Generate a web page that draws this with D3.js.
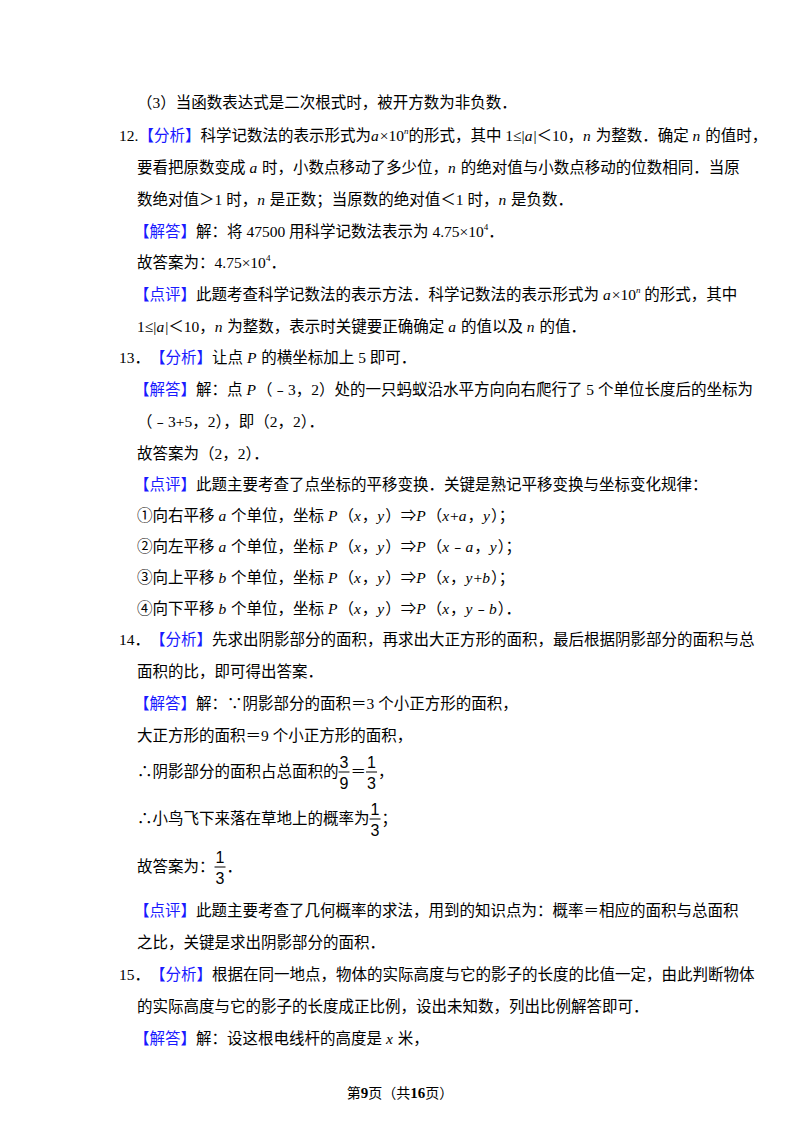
<!DOCTYPE html>
<html><head><meta charset="utf-8">
<script src="https://cdn.jsdelivr.net/npm/d3@7"></script>
<style>body{margin:0;background:#fff}</style>
</head><body><svg id="c" width="800" height="1132"></svg>
<script>
// segments: [text, style]  styles: n normal, b blue bracket, i italic, s superscript(italic), u superscript upright, f fraction "num/den"
const lines = [
 {x:137,y:108,seg:[["（3）当函数表达式是二次根式时，被开方数为非负数．","n"]]},
 {x:119,y:141,j:true,seg:[["12.","n"],["【分析】","b"],["科学记数法的表示形式为","n"],["a","i"],["×10","n"],["n","s"],["的形式，其中 1≤|","n"],["a","i"],["|＜10，","n"],["n","i"],[" 为整数．确定 ","n"],["n","i"],[" 的值时，","n"]]},
 {x:137,y:173,j:true,seg:[["要看把原数变成 ","n"],["a","i"],[" 时，小数点移动了多少位，","n"],["n","i"],[" 的绝对值与小数点移动的位数相同．当原","n"]]},
 {x:137,y:205,seg:[["数绝对值＞1 时，","n"],["n","i"],[" 是正数；当原数的绝对值＜1 时，","n"],["n","i"],[" 是负数．","n"]]},
 {x:134,y:237,seg:[["【解答】","b"],["解：将 47500 用科学记数法表示为 4.75×10","n"],["4","u"],["．","n"]]},
 {x:137,y:268,seg:[["故答案为：4.75×10","n"],["4","u"],["．","n"]]},
 {x:134,y:300,j:true,seg:[["【点评】","b"],["此题考查科学记数法的表示方法．科学记数法的表示形式为 ","n"],["a","i"],["×10","n"],["n","s"],[" 的形式，其中","n"]]},
 {x:137,y:332,seg:[["1≤|","n"],["a","i"],["|＜10，","n"],["n","i"],[" 为整数，表示时关键要正确确定 ","n"],["a","i"],[" 的值以及 ","n"],["n","i"],[" 的值．","n"]]},
 {x:119,y:363,seg:[["13．","n"],["【分析】","b"],["让点 ","n"],["P","i"],[" 的横坐标加上 5 即可．","n"]]},
 {x:134,y:395,j:true,seg:[["【解答】","b"],["解：点 ","n"],["P","i"],["（﹣3，2）处的一只蚂蚁沿水平方向向右爬行了 5 个单位长度后的坐标为","n"]]},
 {x:137,y:427,seg:[["（﹣3+5，2），即（2，2）．","n"]]},
 {x:137,y:459,seg:[["故答案为（2，2）．","n"]]},
 {x:134,y:490,seg:[["【点评】","b"],["此题主要考查了点坐标的平移变换．关键是熟记平移变换与坐标变化规律：","n"]]},
 {x:137,y:521,seg:[["①向右平移 ","n"],["a","i"],[" 个单位，坐标 ","n"],["P","i"],["（","n"],["x","i"],["，","n"],["y","i"],["）⇒","n"],["P","i"],["（","n"],["x","i"],["+","n"],["a","i"],["，","n"],["y","i"],["）；","n"]]},
 {x:137,y:552,seg:[["②向左平移 ","n"],["a","i"],[" 个单位，坐标 ","n"],["P","i"],["（","n"],["x","i"],["，","n"],["y","i"],["）⇒","n"],["P","i"],["（","n"],["x","i"],["﹣","n"],["a","i"],["，","n"],["y","i"],["）；","n"]]},
 {x:137,y:583,seg:[["③向上平移 ","n"],["b","i"],[" 个单位，坐标 ","n"],["P","i"],["（","n"],["x","i"],["，","n"],["y","i"],["）⇒","n"],["P","i"],["（","n"],["x","i"],["，","n"],["y","i"],["+","n"],["b","i"],["）；","n"]]},
 {x:137,y:614,seg:[["④向下平移 ","n"],["b","i"],[" 个单位，坐标 ","n"],["P","i"],["（","n"],["x","i"],["，","n"],["y","i"],["）⇒","n"],["P","i"],["（","n"],["x","i"],["，","n"],["y","i"],["﹣","n"],["b","i"],["）．","n"]]},
 {x:119,y:645,j:true,seg:[["14．","n"],["【分析】","b"],["先求出阴影部分的面积，再求出大正方形的面积，最后根据阴影部分的面积与总","n"]]},
 {x:137,y:677,seg:[["面积的比，即可得出答案．","n"]]},
 {x:134,y:709,seg:[["【解答】","b"],["解：∵阴影部分的面积＝3 个小正方形的面积，","n"]]},
 {x:137,y:741,seg:[["大正方形的面积＝9 个小正方形的面积，","n"]]},
 {x:137,y:777,seg:[["∴阴影部分的面积占总面积的","n"],["3/9","f"],["＝","n"],["1/3","f"],["，","n"]]},
 {x:137,y:824,seg:[["∴小鸟飞下来落在草地上的概率为","n"],["1/3","f"],["；","n"]]},
 {x:137,y:872,seg:[["故答案为：","n"],["1/3","f"],["．","n"]]},
 {x:134,y:916,j:true,seg:[["【点评】","b"],["此题主要考查了几何概率的求法，用到的知识点为：概率＝相应的面积与总面积","n"]]},
 {x:137,y:948,seg:[["之比，关键是求出阴影部分的面积．","n"]]},
 {x:119,y:980,j:true,seg:[["15．","n"],["【分析】","b"],["根据在同一地点，物体的实际高度与它的影子的长度的比值一定，由此判断物体","n"]]},
 {x:137,y:1012,seg:[["的实际高度与它的影子的长度成正比例，设出未知数，列出比例解答即可．","n"]]},
 {x:134,y:1044,seg:[["【解答】","b"],["解：设这根电线杆的高度是 ","n"],["x","i"],[" 米，","n"]]}
];
const footer = [["第","n"],["9","bold"],["页（共","n"],["16","bold"],["页）","n"]];
const RIGHT = 668, FS = 15.5;
const FONT = "'Liberation Serif','Times New Roman','Noto Sans CJK SC',serif";
const svg = d3.select("#c");
svg.append("rect").attr("width",800).attr("height",1132).attr("fill","#fff");

function drawLine(L){
  const g = svg.append("g");
  let x = L.x; const items=[];
  L.seg.forEach(([t,s])=>{
    if(s==="f"){
      const [a,b]=t.split("/");
      const w=11;
      const fg=g.append("g");
      fg.append("text").attr("x",x+w/2).attr("y",L.y-9).attr("text-anchor","middle").attr("font-family","'Liberation Sans',Arial,sans-serif").attr("font-size",16).attr("fill","#000").text(a);
      fg.append("line").attr("x1",x).attr("x2",x+w).attr("y1",L.y-5).attr("y2",L.y-5).attr("stroke","#000").attr("stroke-width",1);
      fg.append("text").attr("x",x+w/2).attr("y",L.y+12).attr("text-anchor","middle").attr("font-family","'Liberation Sans',Arial,sans-serif").attr("font-size",16).attr("fill","#000").text(b);
      x+=w+1; items.push({el:null,n:0});
      return;
    }
    const el=g.append("text").attr("x",x).attr("font-family",FONT).attr("fill","#000").attr("font-size",FS).attr("y",L.y).text(t).style("white-space","pre");
    if(s==="b") el.attr("fill","#1a1aff");
    if(s==="i") el.attr("font-style","italic");
    if(s==="s"||s==="u"){el.attr("font-size",9).attr("y",L.y-7); if(s==="s") el.attr("font-style","italic");}
    const w=el.node().getComputedTextLength();
    items.push({el,n:t.length,x0:x});
    x+=w+(s==="i"?1:0);
  });
  if(L.j){
    const extra=RIGHT-x; const nchars=d3.sum(items,d=>d.n);
    if(extra>0){
      const ls=extra/nchars; let shift=0;
      items.forEach(d=>{ if(!d.el) return; d.el.attr("x",d.x0+shift).attr("letter-spacing",ls); shift+=ls*d.n; });
    }
  }
}
lines.forEach(drawLine);
// footer centered
const fg=svg.append("text").attr("y",1098).attr("font-family",FONT).attr("font-size",14).attr("fill","#000");
footer.forEach(([t,s])=>{const sp=fg.append("tspan").text(t); if(s==="bold") sp.attr("font-weight","bold").attr("font-size",15);});
const fw=fg.node().getComputedTextLength(); fg.attr("x",400-fw/2);
</script></body></html>
